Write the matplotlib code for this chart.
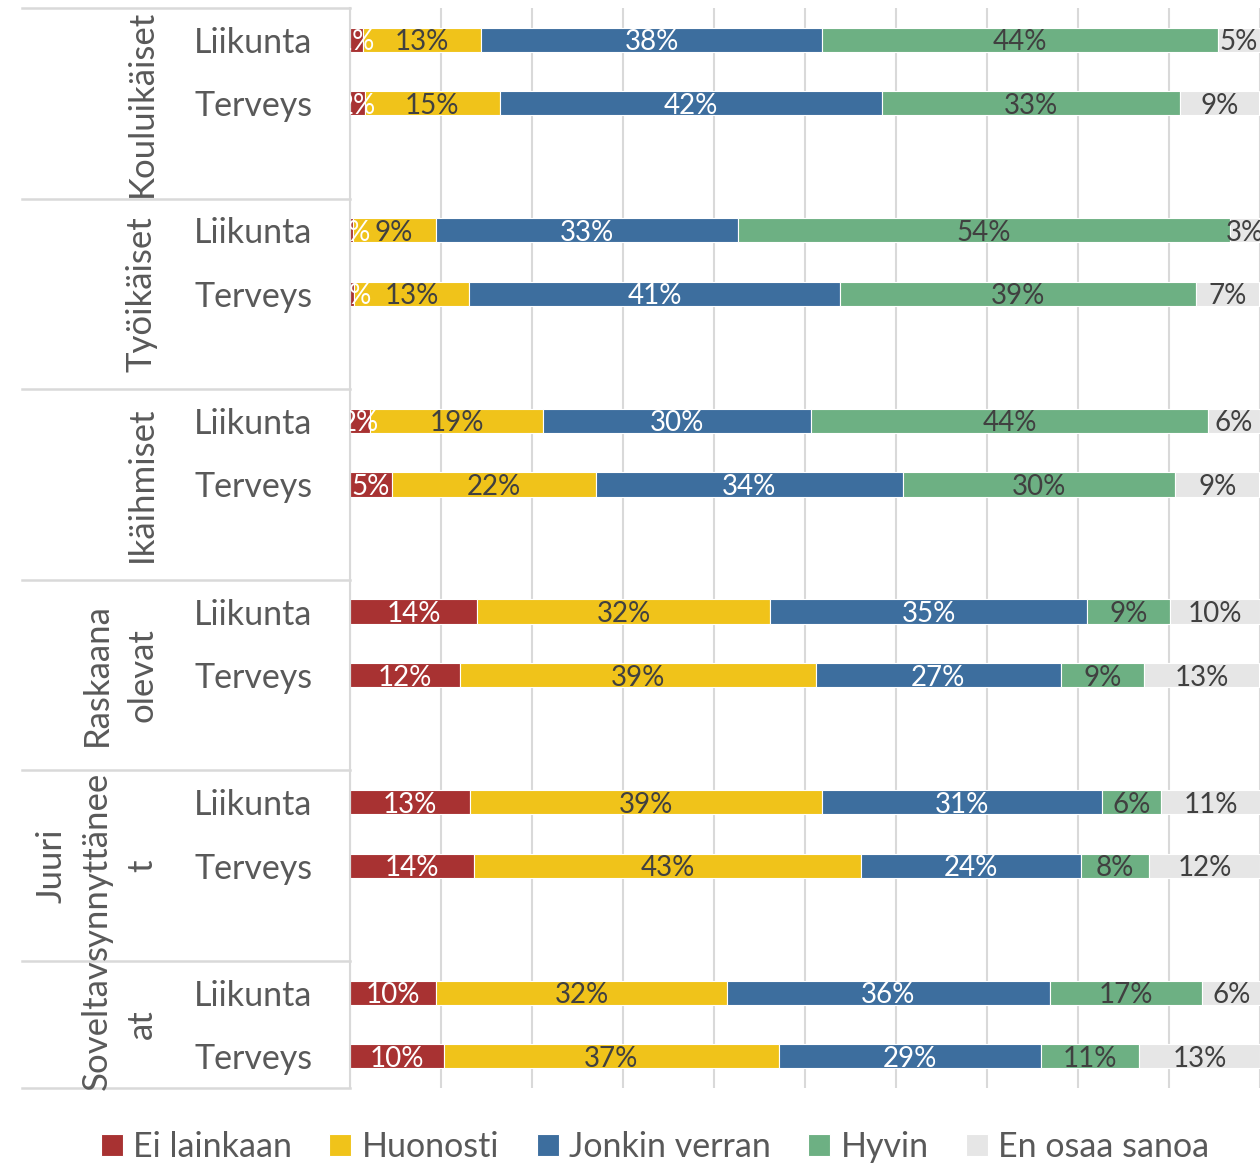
import matplotlib.pyplot as plt
import numpy as np

plt.rcParams['font.family'] = ['Lato', 'DejaVu Sans']

groups = ["Kouluikäiset", "Työikäiset", "Ikäihmiset", "Raskaana\nolevat",
          "Juuri\nsynnyttänee\nt", "Soveltav\nat"]
topics = ["Liikunta", "Terveys"]
answers = ["Ei lainkaan", "Huonosti", "Jonkin verran", "Hyvin", "En osaa sanoa"]
colors = ["#A83232", "#F0C31A", "#3D6E9E", "#6DB083", "#E6E6E6"]
label_colors = ["white", "#404040", "white", "#404040", "#404040"]

# percentages per row, group by group (Liikunta, Terveys)
ei_lainkaan = [1.4, 1.6, 0.3, 0.4, 2.2, 4.6, 14.0, 12.1, 13.2, 13.6, 9.5, 10.3]
huonosti = [13.0, 14.9, 9.1, 12.7, 19.0, 22.4, 32.2, 39.1, 38.7, 42.6, 31.9, 36.8]
jonkin_verran = [37.5, 42.0, 33.2, 40.8, 29.5, 33.8, 34.8, 26.9, 30.7, 24.1, 35.5, 28.8]
hyvin = [43.5, 32.7, 54.1, 39.1, 43.6, 29.9, 9.1, 9.2, 6.5, 7.5, 16.7, 10.8]
en_osaa = [4.6, 8.7, 3.3, 6.9, 5.7, 9.2, 9.9, 12.6, 11.0, 12.2, 6.5, 13.3]

series = [ei_lainkaan, huonosti, jonkin_verran, hyvin, en_osaa]

fig = plt.figure(figsize=(12.6, 11.63), dpi=100)
ax = fig.add_axes([350 / 1260, 1 - 1088 / 1163, 910 / 1260, 1080 / 1163])

# each group gets three slots, the last group only two
ypos = []
for g in range(len(groups)):
    ypos += [3 * g, 3 * g + 1]
ypos = np.array(ypos)

left = np.zeros(len(ypos))
for vals, col, lcol, name in zip(series, colors, label_colors, answers):
    vals = np.array(vals)
    ax.barh(ypos, vals, left=left, height=0.38, color=col,
            edgecolor='white', linewidth=0.8, label=name, zorder=2)
    for y, l, v in zip(ypos, left, vals):
        ax.text(l + v / 2, y, f"{v:.0f}%", ha='center', va='center_baseline',
                fontsize=20, color=lcol, clip_on=True, zorder=3)
    left += vals

ax.set_xlim(0, 100)
ax.set_ylim(16.5, -0.5)
ax.set_xticks(np.arange(0, 101, 10))
ax.set_xticklabels([])
ax.tick_params(axis='x', length=0)
ax.grid(axis='x', color='#d9d9d9', linewidth=1.5, zorder=0)
ax.set_axisbelow(True)

ax.set_yticks(ypos)
ax.set_yticklabels(topics * len(groups), fontsize=24.5, color='#595959')
ax.tick_params(axis='y', length=0, pad=27)

for s in ['top', 'right', 'bottom']:
    ax.spines[s].set_visible(False)
ax.spines['left'].set_color('#d9d9d9')
ax.spines['left'].set_linewidth(1.5)

# group separators and group names on the left
tr = ax.get_yaxis_transform()
x0 = (22 - 350) / 910
bounds = [-0.5, 2.5, 5.5, 8.5, 11.5, 14.5, 16.5]
for b in bounds:
    ax.plot([x0, 0], [b, b], color='#d9d9d9', linewidth=1.8,
            transform=tr, clip_on=False)
for g, name in enumerate(groups):
    yc = (bounds[g] + bounds[g + 1]) / 2
    ax.text((158 - 350) / 910, yc, name, transform=tr, rotation=90,
            ha='right', va='center', multialignment='center',
            fontsize=25, color='#595959', linespacing=1.5)

fig.legend(loc='center', bbox_to_anchor=(655 / 1260, 1 - 1147 / 1163),
           ncol=5, frameon=False, fontsize=24.5, labelcolor='#595959',
           handlelength=0.65, handleheight=0.65, handletextpad=0.3,
           columnspacing=1.1)

fig.savefig('out.png', dpi=100)
